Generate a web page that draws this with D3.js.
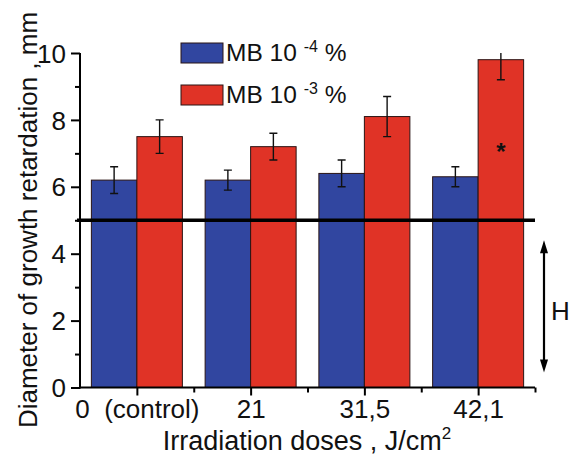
<!DOCTYPE html>
<html>
<head>
<meta charset="utf-8">
<script src="https://cdn.jsdelivr.net/npm/d3@7"></script>
<style>
  html, body { margin: 0; padding: 0; background: #fff; }
  svg { display: block; font-family: "Liberation Sans", Arial, Helvetica, sans-serif; }
  text { white-space: pre; }
</style>
</head>
<body>
<svg id="chart" width="574" height="458"></svg>
<script>
// ---- data ----
const categories = ["0  (control)", "21", "31,5", "42,1"];
const seriesNames = ["MB 10", "MB 10"];
const seriesExp = ["-4", "-3"];
const valuesLow = [6.2, 6.2, 6.4, 6.3];     // MB 10^-4 %
const errorsLow = [0.4, 0.3, 0.4, 0.3];
const valuesHigh = [7.5, 7.2, 8.1, 9.8];    // MB 10^-3 %
const errorsHigh = [0.5, 0.4, 0.6, 0.6];
const yTicks = [0, 2, 4, 6, 8, 10];
const yMinorTicks = [1, 3, 5, 7, 9];
const thresholdValue = 5;
const starCategory = 3;
const starValue = 7.2;
const hArrowRange = [0.45, 4.4];

const colors = ["#3146a0", "#e03326"];

const svg = d3.select("#chart");
const x = d3.scaleLinear().domain([-0.5, 3.5]).range([80, 535]);
const y = d3.scaleLinear().domain([0, 10]).range([387.5, 53]);
const barW = 0.4;

svg.append("defs").append("clipPath").attr("id", "plot")
  .append("rect").attr("x", 78).attr("y", y(10)).attr("width", 480).attr("height", y(0) - y(10) + 2);

const plot = svg.append("g").attr("clip-path", "url(#plot)");

const series = [
  { vals: valuesLow, errs: errorsLow, off: -barW, color: colors[0] },
  { vals: valuesHigh, errs: errorsHigh, off: 0, color: colors[1] }
];

series.forEach(s => {
  plot.selectAll(null).data(s.vals).enter().append("rect")
    .attr("x", (d, i) => x(i + s.off))
    .attr("width", x(barW) - x(0))
    .attr("y", d => y(d))
    .attr("height", d => y(0) - y(d))
    .attr("fill", s.color)
    .attr("stroke", "#2a1414")
    .attr("stroke-width", 1);
});

series.forEach(s => {
  s.vals.forEach((d, i) => {
    const cx = x(i + s.off + barW / 2);
    const e = s.errs[i];
    const g = plot.append("g").attr("stroke", "#111").attr("stroke-width", 1.4);
    g.append("line").attr("x1", cx).attr("x2", cx).attr("y1", y(d - e)).attr("y2", y(d + e));
    g.append("line").attr("x1", cx - 4).attr("x2", cx + 4).attr("y1", y(d - e)).attr("y2", y(d - e));
    g.append("line").attr("x1", cx - 4).attr("x2", cx + 4).attr("y1", y(d + e)).attr("y2", y(d + e));
  });
});

// axes
const yAxis = d3.axisLeft(y).tickValues(yTicks).tickSize(9).tickPadding(5).tickFormat(d3.format("d"));
const yg = svg.append("g").attr("transform", "translate(80,0)").call(yAxis);
const yMinor = d3.axisLeft(y).tickValues(yMinorTicks).tickSize(5).tickFormat("");
const ygm = svg.append("g").attr("transform", "translate(80,0)").call(yMinor);

const xAxis = d3.axisBottom(x).tickValues([0, 1, 2, 3]).tickSize(8).tickPadding(10)
  .tickFormat(i => categories[i]);
const xg = svg.append("g").attr("transform", `translate(0,${y(0)})`).call(xAxis);
const xMinor = d3.axisBottom(x).tickValues([0.5, 1.5, 2.5, 3.5]).tickSize(5).tickFormat("");
const xgm = svg.append("g").attr("transform", `translate(0,${y(0)})`).call(xMinor);

[yg, ygm, xg, xgm].forEach(g => {
  g.select(".domain").attr("stroke", "#000").attr("stroke-width", 2);
  g.selectAll(".tick line").attr("stroke", "#000").attr("stroke-width", 2);
});
ygm.select(".domain").remove();
xgm.select(".domain").remove();
yg.select(".domain").attr("d", `M0,${y(0) + 1}V${y(10)}`);
xg.select(".domain").attr("d", `M${x(-0.5) - 1},0H${x(3.5)}`);
yg.selectAll(".tick text").attr("font-size", 26).attr("fill", "#111")
  .attr("font-family", "Liberation Sans, Arial, sans-serif").attr("dy", "0.35em");
xg.selectAll(".tick text").attr("font-size", 26).attr("fill", "#111")
  .attr("font-family", "Liberation Sans, Arial, sans-serif").attr("y", 30.5).attr("dy", 0);

// threshold line
svg.append("line")
  .attr("x1", 77).attr("x2", x(3.5))
  .attr("y1", y(thresholdValue)).attr("y2", y(thresholdValue))
  .attr("stroke", "#000").attr("stroke-width", 3.5);

// star
svg.append("text")
  .attr("x", x(starCategory + barW / 2)).attr("y", y(starValue) + 13)
  .attr("text-anchor", "middle").attr("font-size", 24).attr("font-weight", "bold").attr("fill", "#111")
  .text("*");

// H arrow
const ax = 544;
const a1 = y(hArrowRange[1]), a2 = y(hArrowRange[0]);
svg.append("line").attr("x1", ax).attr("x2", ax).attr("y1", a1 + 8).attr("y2", a2 - 8)
  .attr("stroke", "#000").attr("stroke-width", 2.2);
svg.append("path").attr("d", `M${ax},${a1}L${ax - 4},${a1 + 13}L${ax + 4},${a1 + 13}Z`).attr("fill", "#000");
svg.append("path").attr("d", `M${ax},${a2}L${ax - 4},${a2 - 13}L${ax + 4},${a2 - 13}Z`).attr("fill", "#000");
svg.append("text").attr("x", 551).attr("y", 320).attr("font-size", 26).attr("fill", "#111").text("H");

// legend
const leg = svg.append("g");
[0, 1].forEach(k => {
  const ly = 43 + k * 42;
  leg.append("rect").attr("x", 181).attr("y", ly).attr("width", 42).attr("height", 20)
    .attr("fill", colors[k]).attr("stroke", "#2a1414").attr("stroke-width", 1);
  const t = leg.append("text").attr("x", 226).attr("y", ly + 18).attr("font-size", 24.5).attr("fill", "#111");
  t.append("tspan").text(seriesNames[k] + " ");
  t.append("tspan").attr("font-size", 16).attr("dy", -9).text(seriesExp[k]);
  t.append("tspan").attr("dy", 9).text(" %");
});

// axis titles
const xt = svg.append("text").attr("x", 307).attr("y", 450).attr("text-anchor", "middle")
  .attr("font-size", 27).attr("fill", "#111");
xt.append("tspan").text("Irradiation doses , J/cm");
xt.append("tspan").attr("font-size", 17).attr("dy", -11).text("2");

svg.append("text").attr("transform", "translate(37,220) rotate(-90)").attr("text-anchor", "middle")
  .attr("font-size", 26).attr("fill", "#111")
  .text("Diameter of growth retardation , mm");
</script>
</body>
</html>
